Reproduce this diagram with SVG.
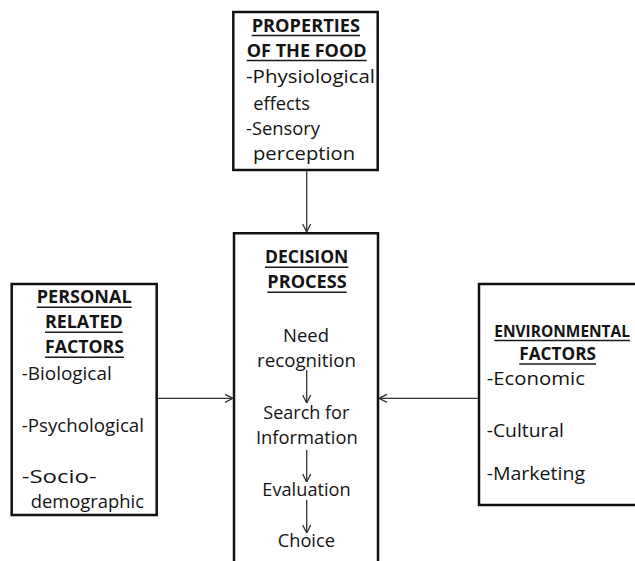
<svg xmlns="http://www.w3.org/2000/svg" width="635" height="561" viewBox="0 0 635 561">
<style>
.box{fill:#fff;stroke:#111;stroke-width:2.5}
text{font-family:"Open Sans","Liberation Sans",sans-serif;font-size:18.5px;fill:#141414}
.h{font-weight:700;font-size:17.5px}
.ul{stroke:#1a1a1a;stroke-width:1.5}
.con{stroke:#333;stroke-width:1.3;fill:none;marker-end:url(#ah)}
</style>
<defs>
<marker id="ah" viewBox="0 0 10 10" refX="10" refY="5" markerWidth="10" markerHeight="10" markerUnits="userSpaceOnUse" orient="auto">
<path d="M2,1 L10,5 L2,9" fill="none" stroke="#333" stroke-width="1.3"/>
</marker>
</defs>
<rect width="635" height="561" fill="#fff"/>
<g id="properties">
<rect class="box" x="233.3" y="12" width="144.4" height="158"/>
<text class="h" x="251.7" y="31.7" textLength="108.3" lengthAdjust="spacingAndGlyphs">PROPERTIES</text>
<line class="ul" x1="251.7" y1="35.5" x2="360" y2="35.5"/>
<text class="h" x="246.7" y="56.7" textLength="120" lengthAdjust="spacingAndGlyphs">OF THE FOOD</text>
<line class="ul" x1="246.7" y1="60.5" x2="366.7" y2="60.5"/>
<text x="246" y="83" textLength="129" lengthAdjust="spacingAndGlyphs">-Physiological</text>
<text x="253.3" y="110" textLength="56.7" lengthAdjust="spacingAndGlyphs">effects</text>
<text x="246" y="135" textLength="74" lengthAdjust="spacingAndGlyphs">-Sensory</text>
<text x="253" y="159.5" textLength="102" lengthAdjust="spacingAndGlyphs">perception</text>
</g>
<g id="decision">
<path class="box" d="M234,561 V233.3 H378 V561"/>
<text class="h" x="265" y="263.3" textLength="83.3" lengthAdjust="spacingAndGlyphs">DECISION</text>
<line class="ul" x1="265" y1="267.2" x2="348.3" y2="267.2"/>
<text class="h" x="267.3" y="288.3" textLength="79.4" lengthAdjust="spacingAndGlyphs">PROCESS</text>
<line class="ul" x1="267.3" y1="292.2" x2="346.7" y2="292.2"/>
<text x="283" y="341.7" textLength="46" lengthAdjust="spacingAndGlyphs">Need</text>
<text x="257" y="366.7" textLength="99" lengthAdjust="spacingAndGlyphs">recognition</text>
<text x="263.3" y="419.3" textLength="86" lengthAdjust="spacingAndGlyphs">Search for</text>
<text x="256" y="444" textLength="101.7" lengthAdjust="spacingAndGlyphs">Information</text>
<text x="262.3" y="496" textLength="88.4" lengthAdjust="spacingAndGlyphs">Evaluation</text>
<text x="277.7" y="546.7" textLength="57.3" lengthAdjust="spacingAndGlyphs">Choice</text>
</g>
<g id="personal">
<rect class="box" x="11.7" y="284" width="145" height="231"/>
<text class="h" x="36.7" y="303.3" textLength="95" lengthAdjust="spacingAndGlyphs">PERSONAL</text>
<line class="ul" x1="36.7" y1="307.2" x2="131.7" y2="307.2"/>
<text class="h" x="45" y="328.3" textLength="77.7" lengthAdjust="spacingAndGlyphs">RELATED</text>
<line class="ul" x1="45" y1="332.2" x2="122.7" y2="332.2"/>
<text class="h" x="45" y="353.3" textLength="79" lengthAdjust="spacingAndGlyphs">FACTORS</text>
<line class="ul" x1="45" y1="357.2" x2="124" y2="357.2"/>
<text x="21.7" y="380" textLength="90" lengthAdjust="spacingAndGlyphs">-Biological</text>
<text x="21.7" y="432.3" textLength="122.3" lengthAdjust="spacingAndGlyphs">-Psychological</text>
<text x="21.7" y="483.3" textLength="75" lengthAdjust="spacingAndGlyphs">-Socio-</text>
<text x="30.7" y="508" textLength="113.3" lengthAdjust="spacingAndGlyphs">demographic</text>
</g>
<g id="environmental">
<path class="box" d="M636,284 H479 V505 H636"/>
<text class="h" x="494.3" y="336.7" textLength="135.7" lengthAdjust="spacingAndGlyphs" style="font-size:15.8px">ENVIRONMENTAL</text>
<line class="ul" x1="494.3" y1="340.6" x2="630" y2="340.6"/>
<text class="h" x="519.3" y="360" textLength="76.7" lengthAdjust="spacingAndGlyphs">FACTORS</text>
<line class="ul" x1="519.3" y1="363.9" x2="596" y2="363.9"/>
<text x="486.7" y="385" textLength="98.3" lengthAdjust="spacingAndGlyphs">-Economic</text>
<text x="486.7" y="436.7" textLength="77.3" lengthAdjust="spacingAndGlyphs">-Cultural</text>
<text x="486.7" y="480" textLength="98.3" lengthAdjust="spacingAndGlyphs">-Marketing</text>
</g>
<g id="connectors">
<line class="con" x1="306.7" y1="171" x2="306.7" y2="232"/>
<line class="con" x1="157.5" y1="398.3" x2="233" y2="398.3"/>
<line class="con" x1="478" y1="398.3" x2="379" y2="398.3"/>
<line class="con" x1="306.7" y1="370" x2="306.7" y2="403"/>
<line class="con" x1="306.7" y1="450" x2="306.7" y2="482"/>
<line class="con" x1="306.7" y1="500" x2="306.7" y2="533"/>
</g>
</svg>
